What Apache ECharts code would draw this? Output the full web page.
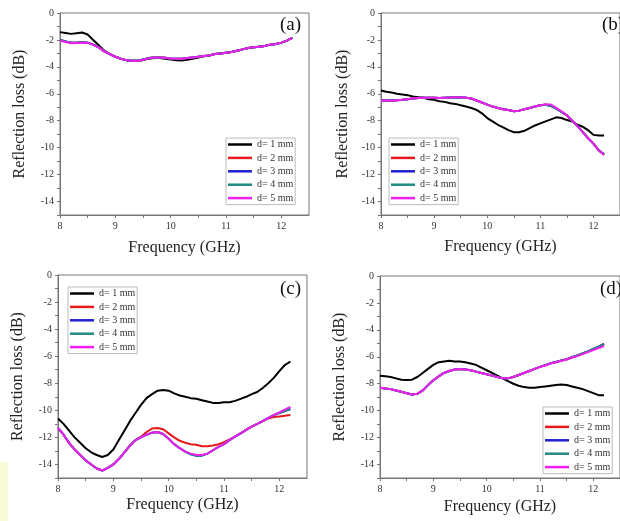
<!DOCTYPE html>
<html style="height: 100%">
<head>
    <meta charset="utf-8">
    <title>Reflection loss</title>
    <script src="https://cdn.jsdelivr.net/npm/echarts@6/dist/echarts.min.js"></script>
</head>
<body style="height: 100%; margin: 0; background: #fff">
    <div id="main" style="width: 620px; height: 521px"></div>
    <script type="text/javascript">
        // frequency points (GHz)
        var freq = [8.0, 8.1, 8.2, 8.3, 8.4, 8.5, 8.6, 8.7, 8.8, 8.9,
                    9.0, 9.1, 9.2, 9.3, 9.4, 9.5, 9.6, 9.7, 9.8, 9.9,
                    10.0, 10.1, 10.2, 10.3, 10.4, 10.5, 10.6, 10.7, 10.8, 10.9,
                    11.0, 11.1, 11.2, 11.3, 11.4, 11.5, 11.6, 11.7, 11.8, 11.9,
                    12.0, 12.1, 12.2];
        var names = ['d= 1 mm', 'd= 2 mm', 'd= 3 mm', 'd= 4 mm', 'd= 5 mm'];
        var colors = ['#000000', '#e5191c', '#2020d0', '#208a80', '#f01ef0'];
        var yLabels = [0, -2, -4, -6, -8, -10, -12, -14];
        var xLabels = [8, 9, 10, 11, 12];
        var xTicks = [8, 8.5, 9, 9.5, 10, 10.5, 11, 11.5, 12];
        var yTicks = [0, -1, -2, -3, -4, -5, -6, -7, -8, -9, -10, -11, -12, -13, -14, -15];

        // (a)
        var a1 = [-1.42, -1.48, -1.55, -1.5, -1.45, -1.6, -2.0, -2.4, -2.8, -3.05,
                  -3.25, -3.4, -3.5, -3.55, -3.55, -3.5, -3.4, -3.35, -3.35, -3.4,
                  -3.45, -3.5, -3.52, -3.47, -3.4, -3.3, -3.22, -3.15, -3.05, -3.0,
                  -2.95, -2.9, -2.8, -2.7, -2.6, -2.55, -2.5, -2.45, -2.35, -2.3,
                  -2.2, -2.05, -1.85];
        var a2 = [-2.0, -2.12, -2.2, -2.2, -2.18, -2.2, -2.35, -2.55, -2.85, -3.05,
                  -3.25, -3.4, -3.5, -3.55, -3.55, -3.45, -3.35, -3.3, -3.3, -3.33,
                  -3.38, -3.4, -3.4, -3.35, -3.3, -3.25, -3.2, -3.15, -3.05, -3.0,
                  -2.95, -2.9, -2.8, -2.7, -2.6, -2.55, -2.5, -2.45, -2.35, -2.3,
                  -2.2, -2.05, -1.85];
        var a3 = a2, a4 = a2;
        var a5 = [-2.05, -2.15, -2.25, -2.22, -2.2, -2.22, -2.35, -2.55, -2.85, -3.05,
                  -3.25, -3.4, -3.5, -3.55, -3.57, -3.47, -3.37, -3.3, -3.3, -3.33,
                  -3.38, -3.4, -3.4, -3.35, -3.3, -3.25, -3.2, -3.15, -3.05, -3.0,
                  -2.95, -2.9, -2.8, -2.7, -2.6, -2.55, -2.5, -2.45, -2.35, -2.3,
                  -2.2, -2.05, -1.85];

        // (b)
        var b1 = [-5.75, -5.85, -5.9, -6.0, -6.05, -6.1, -6.2, -6.25, -6.3, -6.4,
                  -6.45, -6.55, -6.6, -6.7, -6.75, -6.85, -6.95, -7.05, -7.2, -7.45,
                  -7.8, -8.05, -8.3, -8.5, -8.7, -8.85, -8.85, -8.75, -8.55, -8.35,
                  -8.2, -8.05, -7.9, -7.75, -7.8, -7.95, -8.05, -8.3, -8.45, -8.7,
                  -9.05, -9.1, -9.1];
        var b2 = [-6.5, -6.5, -6.5, -6.48, -6.45, -6.4, -6.35, -6.32, -6.3, -6.3,
                  -6.3, -6.32, -6.3, -6.28, -6.27, -6.25, -6.3, -6.35, -6.5, -6.65,
                  -6.8, -6.95, -7.05, -7.15, -7.2, -7.3, -7.25, -7.15, -7.05, -6.95,
                  -6.85, -6.82, -6.9, -7.1, -7.35, -7.6, -8.0, -8.4, -8.85, -9.3,
                  -9.7, -10.2, -10.5];
        var b3 = b2, b4 = b2;
        var b5 = [-6.5, -6.5, -6.52, -6.48, -6.45, -6.4, -6.35, -6.32, -6.3, -6.3,
                  -6.3, -6.32, -6.3, -6.28, -6.25, -6.25, -6.3, -6.35, -6.5, -6.65,
                  -6.8, -6.95, -7.05, -7.15, -7.2, -7.3, -7.25, -7.15, -7.05, -6.95,
                  -6.85, -6.78, -6.8, -7.05, -7.3, -7.6, -8.0, -8.4, -8.85, -9.3,
                  -9.7, -10.2, -10.55];

        // (c)
        var c1 = [-10.6, -11.0, -11.5, -12.0, -12.4, -12.8, -13.1, -13.3, -13.45, -13.3,
                  -12.9, -12.2, -11.5, -10.8, -10.2, -9.6, -9.1, -8.8, -8.55, -8.5,
                  -8.55, -8.75, -8.9, -9.0, -9.1, -9.15, -9.25, -9.35, -9.45, -9.45,
                  -9.4, -9.4, -9.3, -9.15, -9.0, -8.8, -8.65, -8.35, -8.0, -7.6,
                  -7.1, -6.65, -6.4];
        var c2 = [-11.3, -11.8, -12.4, -12.9, -13.3, -13.7, -14.0, -14.3, -14.45, -14.25,
                  -14.0, -13.6, -13.1, -12.6, -12.2, -11.95, -11.6, -11.35, -11.3, -11.4,
                  -11.7, -12.0, -12.25, -12.4, -12.5, -12.55, -12.65, -12.65, -12.6, -12.5,
                  -12.35, -12.15, -11.95, -11.7, -11.45, -11.2, -11.0, -10.8, -10.6, -10.5,
                  -10.45, -10.4, -10.35];
        var c3 = [-11.3, -11.8, -12.4, -12.9, -13.3, -13.7, -14.0, -14.3, -14.45, -14.25,
                  -14.0, -13.6, -13.1, -12.6, -12.2, -12.0, -11.8, -11.65, -11.6, -11.75,
                  -12.1, -12.5, -12.8, -13.05, -13.25, -13.35, -13.35, -13.2, -12.95, -12.7,
                  -12.5, -12.2, -11.95, -11.7, -11.45, -11.2, -11.0, -10.8, -10.55, -10.35,
                  -10.2, -10.05, -9.9];
        var c4 = c3;
        var c5 = [-11.3, -11.8, -12.4, -12.9, -13.3, -13.7, -14.0, -14.3, -14.45, -14.25,
                  -14.0, -13.6, -13.1, -12.6, -12.2, -12.0, -11.8, -11.65, -11.6, -11.75,
                  -12.1, -12.5, -12.8, -13.05, -13.2, -13.3, -13.3, -13.2, -12.95, -12.7,
                  -12.5, -12.2, -11.95, -11.7, -11.45, -11.2, -11.0, -10.8, -10.55, -10.35,
                  -10.15, -9.95, -9.75];

        // (d)
        var d1 = [-7.4, -7.45, -7.5, -7.6, -7.7, -7.72, -7.7, -7.5, -7.2, -6.9,
                  -6.6, -6.4, -6.35, -6.3, -6.35, -6.35, -6.4, -6.5, -6.6, -6.8,
                  -7.0, -7.2, -7.4, -7.6, -7.8, -8.0, -8.15, -8.25, -8.3, -8.3,
                  -8.25, -8.2, -8.15, -8.1, -8.05, -8.1, -8.2, -8.3, -8.4, -8.55,
                  -8.7, -8.85, -8.85];
        var d2 = [-8.3, -8.35, -8.4, -8.5, -8.6, -8.7, -8.8, -8.75, -8.5, -8.1,
                  -7.75, -7.45, -7.2, -7.05, -6.95, -6.9, -6.95, -7.0, -7.1, -7.2,
                  -7.3, -7.4, -7.5, -7.6, -7.6, -7.5, -7.35, -7.2, -7.05, -6.9,
                  -6.75, -6.62, -6.48, -6.38, -6.28, -6.18, -6.03, -5.9, -5.75, -5.6,
                  -5.42, -5.25, -5.05];
        var d3 = d2, d4 = d2;
        var d5 = [-8.3, -8.35, -8.4, -8.5, -8.6, -8.7, -8.8, -8.75, -8.5, -8.1,
                  -7.75, -7.45, -7.2, -7.05, -6.95, -6.9, -6.95, -7.0, -7.1, -7.2,
                  -7.3, -7.4, -7.5, -7.6, -7.6, -7.5, -7.35, -7.2, -7.05, -6.9,
                  -6.75, -6.65, -6.5, -6.4, -6.3, -6.2, -6.05, -5.95, -5.8, -5.65,
                  -5.5, -5.35, -5.2];

        var panels = [
            {data: [a1, a2, a3, a4, a5], grid: {left: 60, top: 13, width: 249, height: 202},
             yGap: 32, xGap: 25, legend: {left: 226, top: 138}, tag: '(a)', tagX: 304, tagY: 27, tagAlign: 'right'},
            {data: [b1, b2, b3, b4, b5], grid: {left: 381, top: 13, width: 249, height: 202},
             yGap: 30, xGap: 24, legend: {left: 389, top: 138}, tag: '(b)', tagX: 602, tagY: 27, tagAlign: 'left'},
            {data: [c1, c2, c3, c4, c5], grid: {left: 58, top: 275, width: 249, height: 203},
             yGap: 32, xGap: 19, legend: {left: 68, top: 287}, tag: '(c)', tagX: 304, tagY: 291, tagAlign: 'right'},
            {data: [d1, d2, d3, d4, d5], grid: {left: 380, top: 276, width: 249, height: 202},
             yGap: 32, xGap: 21, legend: {left: 543, top: 407}, tag: '(d)', tagX: 600, tagY: 291, tagAlign: 'left'}
        ];

        var fontFam = '"Liberation Serif", "Times New Roman", serif';
        var option = {
            animation: false,
            backgroundColor: '#fff',
            grid: [], xAxis: [], yAxis: [], series: [], legend: [],
            graphic: [
                {type: 'rect', left: 0, top: 462, shape: {width: 8, height: 59},
                 style: {fill: '#fafbd8'}, z: 0}
            ]
        };

        panels.forEach(function (p, i) {
            option.grid.push({
                left: p.grid.left, top: p.grid.top, width: p.grid.width, height: p.grid.height,
                show: true, borderColor: '#777', borderWidth: 1
            });
            option.xAxis.push({
                gridIndex: i, type: 'value', min: 8, max: 12.5,
                name: 'Frequency (GHz)', nameLocation: 'middle', nameGap: p.xGap,
                nameTextStyle: {fontFamily: fontFam, fontSize: 16, color: '#222'},
                axisLine: {onZero: false, lineStyle: {color: '#777'}},
                axisTick: {customValues: xTicks, length: 3, lineStyle: {color: '#777'}},
                axisLabel: {customValues: xLabels, fontFamily: fontFam, fontSize: 10, color: '#333', margin: 6},
                splitLine: {show: false}
            });
            option.yAxis.push({
                gridIndex: i, type: 'value', min: -15, max: 0,
                name: 'Reflection loss (dB)', nameLocation: 'middle', nameGap: p.yGap,
                nameTextStyle: {fontFamily: fontFam, fontSize: 16, color: '#222'},
                axisLine: {onZero: false, lineStyle: {color: '#777'}},
                axisTick: {customValues: yTicks, length: 3, lineStyle: {color: '#777'}},
                axisLabel: {customValues: yLabels, fontFamily: fontFam, fontSize: 10, color: '#333', margin: 6},
                splitLine: {show: false}
            });
            p.data.forEach(function (vals, k) {
                option.series.push({
                    name: names[k], type: 'line', xAxisIndex: i, yAxisIndex: i,
                    data: freq.map(function (f, j) { return [f, vals[j]]; }),
                    showSymbol: false, symbol: 'none',
                    lineStyle: {color: colors[k], width: 2},
                    itemStyle: {color: colors[k]},
                    z: 2 + k
                });
            });
            option.legend.push({
                data: names, orient: 'vertical', left: p.legend.left, top: p.legend.top,
                icon: 'rect', itemWidth: 24, itemHeight: 2.5, itemGap: 2.4,
                padding: [1, 2, 1, 2], backgroundColor: '#fff', borderColor: '#bbb', borderWidth: 1,
                textStyle: {fontFamily: fontFam, fontSize: 10, color: '#333', lineHeight: 11},
                selectedMode: false
            });
            option.graphic.push({
                type: 'text', left: p.tagAlign === 'right' ? p.tagX - 24 : p.tagX, top: p.tagY - 11,
                style: {text: p.tag, font: '19px ' + fontFam, fill: '#111'}, z: 10
            });
        });

        var myChart = echarts.init(document.getElementById('main'));
        myChart.setOption(option);
    </script>
</body>
</html>
